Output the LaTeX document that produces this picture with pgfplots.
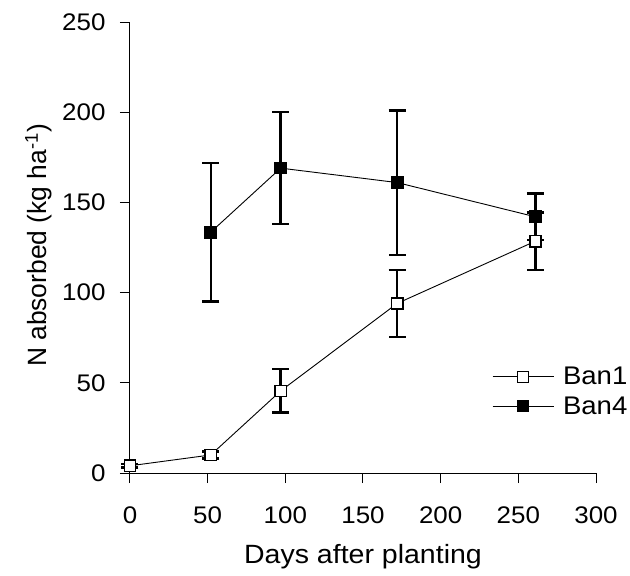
\documentclass[border=0pt]{standalone}
\usepackage{pgfplots}
\pgfplotsset{compat=1.18}
\usepackage{fontspec}
\setmainfont{Liberation Sans}
\newfontfamily\widesans[FakeStretch=1.08]{Liberation Sans}

% x, mean, +/- error
\pgfplotstableread{
x y e
0 4 1
52 10 2
97 45.5 12
172 94 18.5
261 128.5 16
}\banone
\pgfplotstableread{
x y e
52 133.5 38.5
97 169 31
172 161 40
261 142 13
}\banfour

\begin{document}
\begin{tikzpicture}
\begin{axis}[
    scale only axis,
    width=466pt, height=451pt,
    xmin=0, xmax=300, ymin=0, ymax=250,
    clip=false,
    axis lines=left,
    axis line style={-, line width=1pt},
    tick align=outside,
    major tick length=10pt,
    tick style={line width=1pt, black},
    xtick={0,50,...,300},
    ytick={0,50,...,250},
    xticklabel shift=20pt,
    yticklabel shift=11pt,
    /pgf/number format/assume math mode=true,
    tick label style={font=\widesans\fontsize{24}{28}\selectfont},
    every axis y label/.style={at={(rel axis cs:0,0.5)}, xshift=-83pt, yshift=2pt,
        rotate=90, anchor=base, font=\fontsize{26.4}{30}\selectfont},
    every axis x label/.style={at={(rel axis cs:0.5,0)}, yshift=-90pt, anchor=base,
        font=\widesans\fontsize{26.4}{30}\selectfont},
    xlabel={Days after planting},
    ylabel={N absorbed (kg ha\textsuperscript{-1})},
    legend style={draw=none, fill=none, at={(axis cs:233,45.2)}, anchor=west,
        font=\widesans\fontsize{25.5}{29}\selectfont, inner sep=0pt, row sep=8pt,
        nodes={inner sep=1pt},
        /tikz/every odd column/.append style={column sep=8pt}},
    legend cell align=left,
    reverse legend,
    legend image code/.code={\draw[mark repeat=2, mark phase=2, #1] plot coordinates {(0pt,0pt) (30.5pt,0pt) (61pt,0pt)};},
]
\addplot[black, line width=0.9pt, mark=square*, mark size=5.6pt,
    mark options={fill=black, line width=1.5pt},
    error bars/.cd, y dir=both, y explicit,
    error bar style={line width=2.4pt},
    error mark options={rotate=90, mark size=8.5pt, line width=2.4pt}]
    table[x=x, y=y, y error=e] {\banfour};
\addlegendentry{Ban4}
\addplot[black, line width=0.9pt, mark=square*, mark size=5.6pt,
    mark options={fill=white, line width=1.5pt},
    error bars/.cd, y dir=both, y explicit,
    error bar style={line width=2.4pt},
    error mark options={rotate=90, mark size=8.5pt, line width=2.4pt}]
    table[x=x, y=y, y error=e] {\banone};
\addlegendentry{Ban1}
\end{axis}
\pgfresetboundingbox
\path (-130pt,-103pt) rectangle (500pt,473pt);
\end{tikzpicture}
\end{document}
